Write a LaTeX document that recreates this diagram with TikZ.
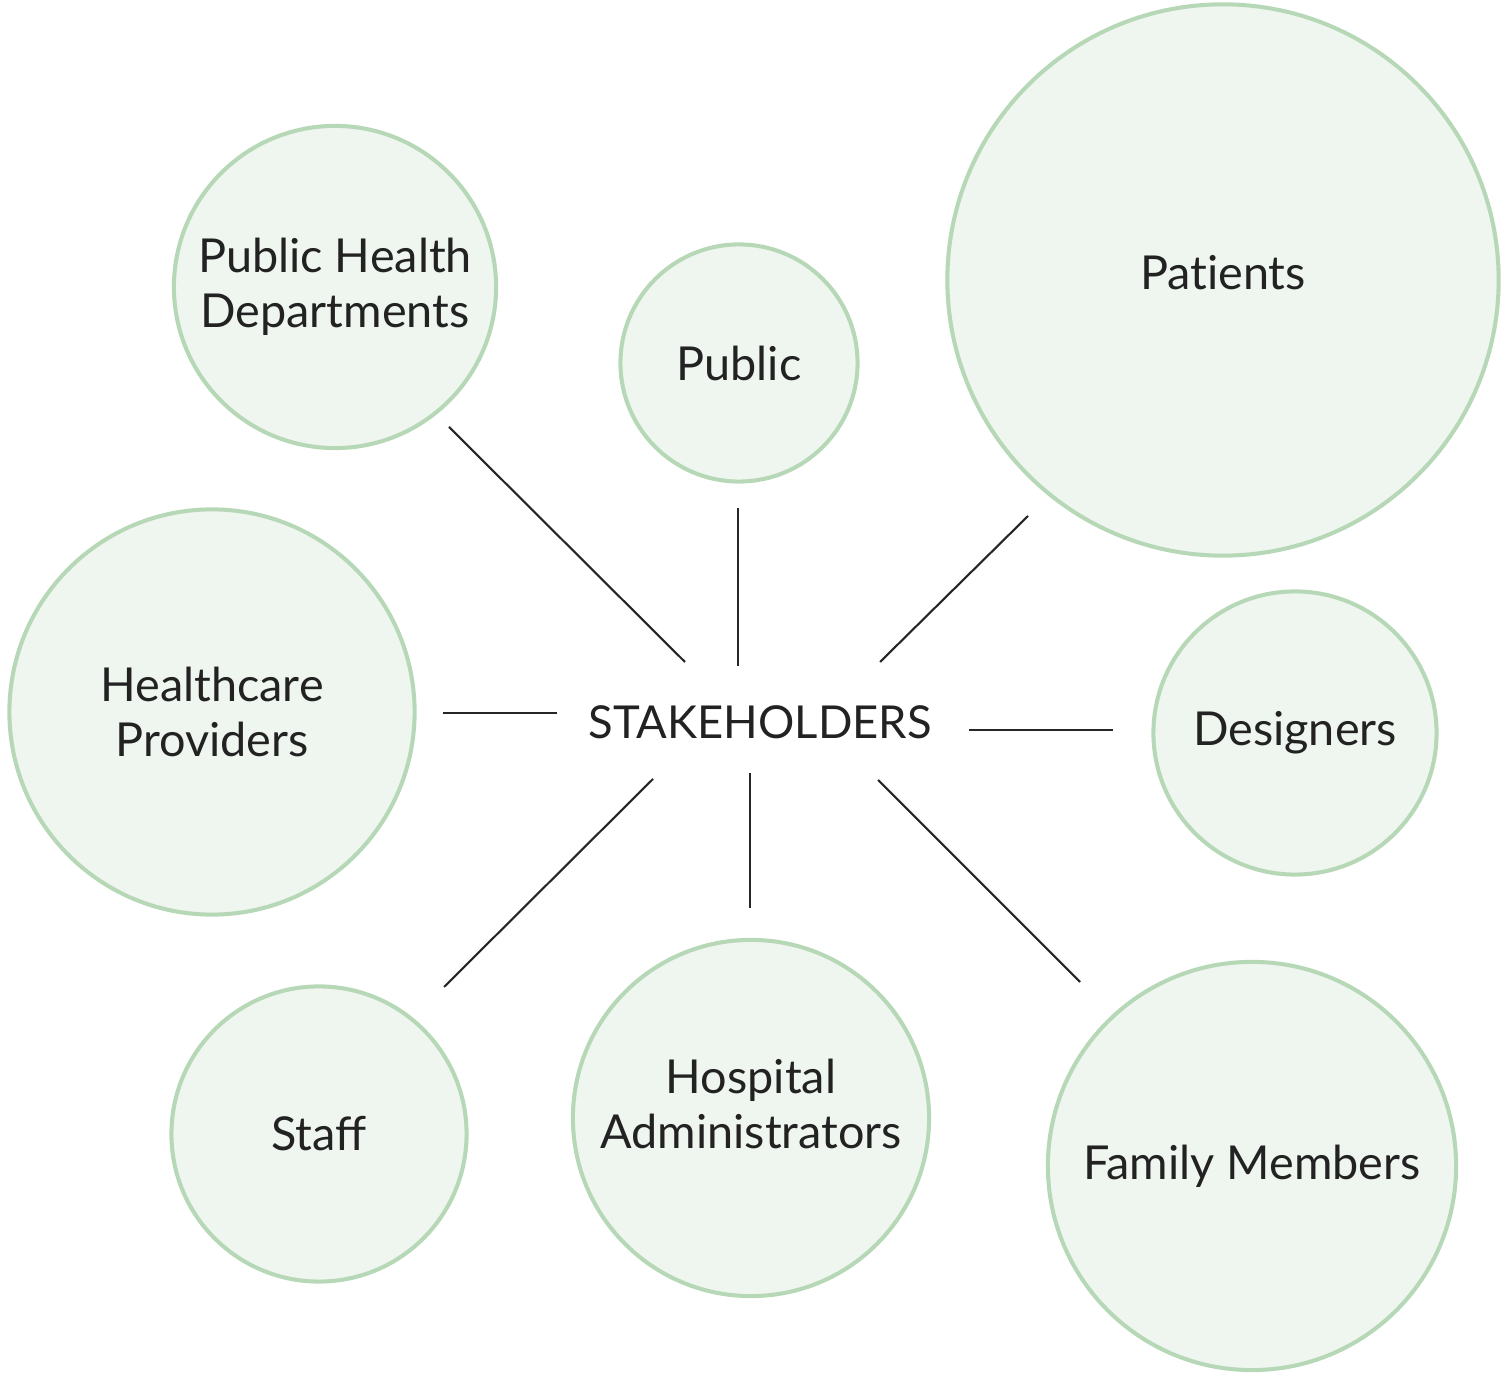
\documentclass[tikz,border=0pt]{standalone}
\usepackage{fontspec}
\setmainfont{Lato}
\usetikzlibrary{positioning}

\definecolor{ringgreen}{HTML}{B6D8B6}
\definecolor{softgreen}{HTML}{EFF5EF}
\definecolor{inkgray}{HTML}{222222}

\tikzset{
  group/.style={circle, draw=ringgreen, fill=softgreen, line width=1.15pt,
    inner sep=0pt, align=center, text=inkgray,
    font=\fontsize{13.3}{15.6}\selectfont},
  raised/.style={text depth=#1},
  spoke/.style={line width=0.6pt, black!85}
}

\begin{document}
\begin{tikzpicture}[x=0.01cm, y=-0.01cm]
    \useasboundingbox (0,0) rectangle (1506,1374);

    \node[group, minimum size=3.22cm] (phd) at (335,287) {Public Health\\Departments};
    \node[group, minimum size=2.37cm] (pub) at (739,363) {Public};
    \node[group, minimum size=5.51cm, raised=0.16cm] (pat) at (1223,280) {Pat\kern0pt ients};
    \node[group, minimum size=4.05cm] (hcp) at (212,712) {Healthcare\\Providers};
    \node[group, minimum size=2.83cm] (des) at (1295,733) {Designers};
    \node[group, minimum size=2.95cm] (staff) at (319,1134) {Staff};
    \node[group, minimum size=3.56cm, raised=0.29cm] (hadm) at (751,1118) {Hospital\\Administrators};
    \node[group, minimum size=4.08cm] (fam) at (1252,1166) {Family Members};

    \node[text=inkgray, font=\fontsize{12.9}{15}\selectfont] (hub) at (760,722) {STAKEHOLDERS};

    % spokes, gap on both ends
    \coordinate (phd1) at (449,427);  \coordinate (phd2) at (685,662);
    \coordinate (pub1) at (738,508);  \coordinate (pub2) at (738,666);
    \coordinate (pat1) at (1028,516); \coordinate (pat2) at (880,662);
    \coordinate (hcp1) at (443,713);  \coordinate (hcp2) at (557,713);
    \coordinate (des1) at (1113,730); \coordinate (des2) at (969,730);
    \coordinate (staff1) at (444,987); \coordinate (staff2) at (653,779);
    \coordinate (hadm1) at (750,908); \coordinate (hadm2) at (750,773);
    \coordinate (fam1) at (1080,982); \coordinate (fam2) at (878,780);

    \foreach \g in {phd, pub, pat, hcp, des, staff, hadm, fam}
        \draw[spoke] (\g1) -- (\g2);
\end{tikzpicture}
\end{document}
